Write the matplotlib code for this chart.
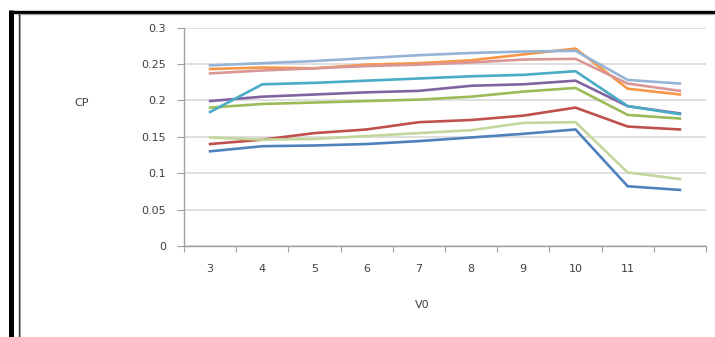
"""Recreate the CP vs V0 line chart (Excel style)."""

import matplotlib
matplotlib.use('Agg')
import matplotlib.pyplot as plt
from matplotlib.lines import Line2D

W, H = 715, 337

# Data
categories = ['3', '4', '5', '6', '7', '8', '9', '10', '11', '']
s_blue = [0.130, 0.137, 0.138, 0.140, 0.144, 0.149, 0.154, 0.160, 0.082, 0.077]
s_red = [0.140, 0.146, 0.155, 0.160, 0.170, 0.173, 0.179, 0.190, 0.164, 0.160]
s_green = [0.190, 0.195, 0.197, 0.199, 0.201, 0.205, 0.212, 0.217, 0.180, 0.175]
s_purple = [0.199, 0.205, 0.208, 0.211, 0.213, 0.220, 0.222, 0.227, 0.192, 0.182]
s_teal = [0.184, 0.222, 0.224, 0.227, 0.230, 0.233, 0.235, 0.240, 0.192, 0.181]
s_orange = [0.243, 0.245, 0.244, 0.249, 0.251, 0.255, 0.263, 0.271, 0.216, 0.208]
s_lblue = [0.248, 0.251, 0.254, 0.258, 0.262, 0.265, 0.267, 0.268, 0.228, 0.223]
s_pink = [0.237, 0.241, 0.244, 0.247, 0.249, 0.252, 0.256, 0.257, 0.223, 0.213]
s_lgreen = [0.149, 0.146, 0.147, 0.151, 0.155, 0.159, 0.169, 0.170, 0.101, 0.092]

series = [s_blue, s_red, s_green, s_purple, s_teal, s_orange, s_lblue, s_pink, s_lgreen]
colors = ['#4F81BD', '#C0504D', '#9BBB59', '#8064A2', '#4BACC6',
          '#F79646', '#95B3D7', '#D99694', '#C3D69B']

TEXT = '#404040'
GRID = '#D9D9D9'
AXIS = '#A0A0A0'

fig = plt.figure(figsize=(W / 100, H / 100), dpi=100)
fig.patch.set_facecolor('white')

ax = fig.add_axes([184 / W, 1 - 246 / H, (706 - 184) / W, (246 - 27.5) / H])

x = list(range(len(categories)))
for vals, c in zip(series, colors):
    ax.plot(x, vals, color=c, linewidth=1.9, solid_joinstyle='miter')

ax.set_xlim(-0.5, len(categories) - 0.5)
ax.set_ylim(0, 0.3)
ax.set_yticks([0, 0.05, 0.1, 0.15, 0.2, 0.25, 0.3])
ax.set_yticklabels(['0', '0.05', '0.1', '0.15', '0.2', '0.25', '0.3'])
ax.yaxis.grid(True, color=GRID, linewidth=1.2)
ax.set_axisbelow(True)

# category ticks sit between categories, labels at centers
ax.set_xticks([i - 0.5 for i in range(len(categories) + 1)])
ax.set_xticklabels([''] * (len(categories) + 1))
ax.set_xticks(x, minor=True)
ax.set_xticklabels(categories, minor=True)
ax.tick_params(axis='x', which='minor', length=0, pad=13, labelsize=8, labelcolor=TEXT)
ax.tick_params(axis='x', which='major', length=4, color=AXIS, direction='out')
ax.tick_params(axis='y', length=5, color=AXIS, labelsize=8, labelcolor=TEXT, pad=8)

for side in ['top', 'right']:
    ax.spines[side].set_visible(False)
for side in ['left', 'bottom']:
    ax.spines[side].set_color(AXIS)
    ax.spines[side].set_linewidth(1.0)

fig.text(82 / W, 1 - 103 / H, 'CP', ha='center', va='center', fontsize=8, color=TEXT)
fig.text(422 / W, 1 - 305 / H, 'V0', ha='center', va='center', fontsize=8, color=TEXT)

# page frame lines
def px_line(x0, y0, x1, y1, color, lw):
    fig.add_artist(Line2D([x0 / W, x1 / W], [1 - y0 / H, 1 - y1 / H],
                          transform=fig.transFigure, color=color, linewidth=lw,
                          solid_capstyle='butt'))

px_line(9, 11.7, W, 11.7, 'black', 2.4)
px_line(11.5, 10, 11.5, H, 'black', 3.6)
px_line(18, 14, W, 14, '#A0A0A0', 0.9)
px_line(19.3, 13.3, 19.3, H, '#333333', 1.0)
px_line(20.3, 14, 20.3, H, '#A0A0A0', 0.8)

fig.savefig('out.png', dpi=100, facecolor='white')
